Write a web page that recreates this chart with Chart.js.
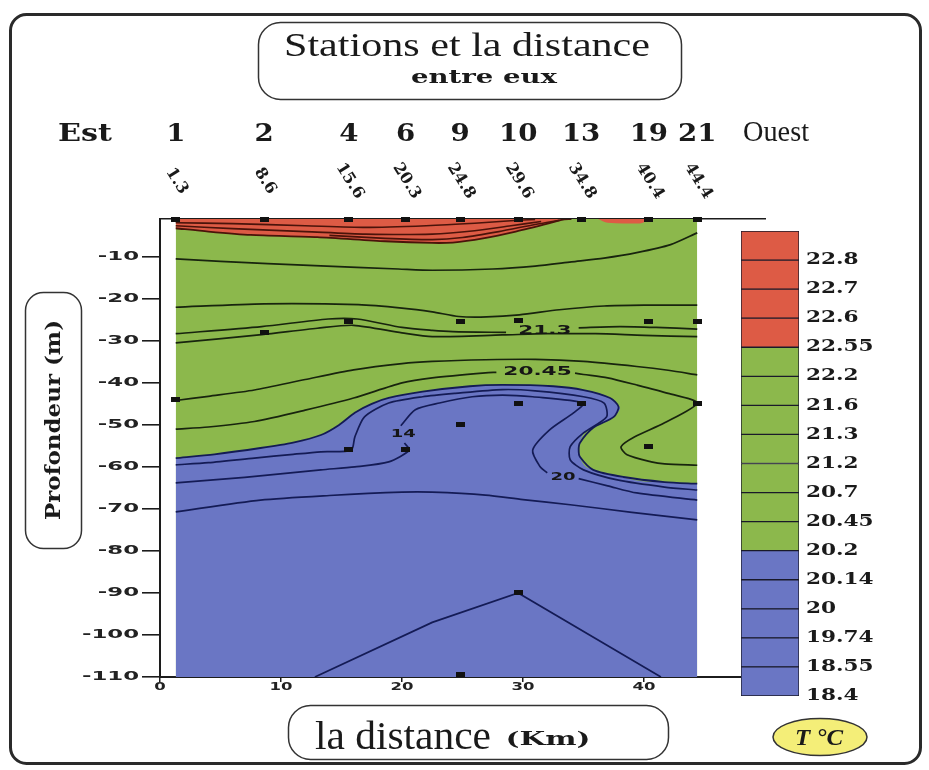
<!DOCTYPE html>
<html>
<head>
<meta charset="utf-8">
<script src="https://cdn.jsdelivr.net/npm/chart.js@4.4.1/dist/chart.umd.min.js"></script>
<style>
  html, body { margin: 0; padding: 0; background: #ffffff; }
  #wrap { position: relative; width: 929px; height: 770px; overflow: hidden; }
  #main { position: absolute; left: 0; top: 0; }
  #scale { position: absolute; left: 700px; top: 200px; }
</style>
</head>
<body>
<div id="wrap">
  <canvas id="main" width="929" height="770"></canvas>
  <canvas id="scale" width="229" height="520"></canvas>
</div>
<script>
// ---- Stations along the section (east to west) ----
const stationIds = ['1', '2', '4', '6', '9', '10', '13', '19', '21'];
const stationKm  = [1.3, 8.6, 15.6, 20.3, 24.8, 29.6, 34.8, 40.4, 44.4];

// ---- Axis ticks ----
const xTicks = [0, 10, 20, 30, 40];
const yTicks = [-10, -20, -30, -40, -50, -60, -70, -80, -90, -100, -110];
const depthMin = -110;

// ---- Sampling points (km, depth m) ----
const sampleKm    = [1.3, 8.6, 15.6, 20.3, 24.8, 29.6, 34.8, 40.4, 44.4,
                     8.6, 15.6, 24.8, 29.6, 40.4, 44.4,
                     1.3, 29.6, 34.8, 44.4, 24.8, 15.6, 20.3, 40.4, 29.6, 24.8];
const sampleDepth = [-1.2, -1.2, -1.2, -1.2, -1.2, -1.2, -1.2, -1.2, -1.2,
                     -28, -25.4, -25.4, -25.2, -25.4, -25.4,
                     -44, -44.8, -44.8, -44.8, -50, -55.8, -55.8, -55.2, -90, -109.5];

// ---- Temperature classes (°C), bottom to top of the colour scale ----
const levels = ['18.4', '18.55', '19.74', '20', '20.14', '20.2', '20.45', '20.7',
                '21.2', '21.3', '21.6', '22.2', '22.55', '22.6', '22.7', '22.8'];
const binClass = ['cold', 'cold', 'cold', 'cold', 'cold',
                  'mid', 'mid', 'mid', 'mid', 'mid', 'mid', 'mid',
                  'warm', 'warm', 'warm', 'warm'];
const classColor = { warm: '#dd5b45', mid: '#8cb84c', cold: '#6a76c4' };

// ---- Class boundaries (km, depth) ----
const warmEdge   = [[1.3,-3.2],[4,-4.0],[7.5,-4.8],[13,-5.3],[18.6,-6.3],[22.5,-6.7],[24.2,-6.6],
                    [26.7,-5.6],[29.4,-4.0],[32.2,-2.0],[33.2,-1.2],[34,-1]];
const warmSliver = [[36.2,-1],[37,-1.9],[39.6,-2.1],[40.3,-1.4],[40.7,-1]];
const coldTop    = [[1.3,-57.9],[4.5,-57],[8.3,-55.5],[11,-54.2],[13.3,-52.4],[14.8,-50],[16.1,-47.1],
                    [17.5,-45],[18.9,-43.6],[21.7,-42.1],[25.6,-40.8],[28.3,-40.5],[32.5,-40.8],
                    [35,-41.7],[37.2,-43.6],[37.9,-45.5],[38.1,-47.5],[38.3,-62.4],[41.7,-63.6],[44.4,-64]];
const tongueTop  = [[34.6,-56],[34.7,-54.3],[35.8,-50.7],[37.5,-48.1],[38.0,-46.3],[38.3,-44],[41.7,-44],[44.4,-44]];
const tongueBot  = [[34.6,-56],[34.7,-57.6],[35.8,-60.7],[37.5,-62.0],[38.0,-62.2],[38.3,-62.4],[41.7,-63.6],[44.4,-64]];
const coldEdge   = [[1.3,-57.9],[4.5,-57],[8.3,-55.5],[11,-54.2],[13.3,-52.4],[14.8,-50],[16.1,-47.1],
                    [17.5,-45],[18.9,-43.6],[21.7,-42.1],[25.6,-40.8],[28.3,-40.5],[32.5,-40.8],[35,-41.7],
                    [37.2,-43.6],[37.9,-45.7],[37.5,-48.1],[35.8,-50.7],[34.7,-54.3],[34.6,-56],[34.7,-57.6],
                    [35.8,-60.7],[38.3,-62.4],[41.7,-63.6],[44.4,-64]];

// ---- Isotherms (km, depth); null depth = break for a label ----
const isoW1 = [[1.3,-1.9],[6,-2.1],[12,-2.6],[17,-3.0],[22,-2.6],[26,-2.0],[29,-1.4],[31,-1.1]];
const isoW2 = [[1.3,-2.6],[6,-3.3],[12,-4.0],[17,-4.6],[22.5,-4.6],[26,-3.8],[29,-2.6],[31.5,-1.6]];
const isoW3 = [[14,-4.9],[18.6,-5.6],[22.5,-5.9],[25,-5.4],[28,-4.0],[31,-2.3],[33,-1.3]];
const isoM1 = [[1.3,-10.5],[5,-11.1],[12.8,-12.1],[19.7,-12.9],[22.5,-13.2],[27.5,-12.9],[31,-12.2],
               [34,-11.2],[36.7,-10.3],[39.4,-9.0],[42.2,-7.1],[44.4,-4.3]];
const isoM2 = [[1.3,-22],[8.6,-21.2],[16.4,-21.4],[20,-22.2],[22.5,-23.1],[24.7,-24.2],[27,-24.3],
               [29.7,-23.8],[33,-22.6],[36.7,-21.7],[40,-21.5],[44.4,-21.5]];
const isoM3 = [[1.3,-28.3],[8.4,-26.6],[13.9,-24.8],[16.3,-24.8],[20,-26.8],[22.5,-27.5],[24.2,-27.8],
               [28.6,-28.0],[31,null],[34.6,-26.9],[38,-26.6],[41,-26.8],[44.4,-27.2]];
const isoM4 = [[1.3,-30.5],[8.4,-28.5],[13,-27.0],[16,-26.3],[20,-28.1],[22.5,-29.0],[28.3,-28.6],
               [32,-28.3],[36,-28.3],[40,-28.7],[44.4,-29]];
const isoM5 = [[1.3,-44.2],[4,-43.2],[7.8,-41.7],[12,-39.2],[16,-36.9],[20,-35.4],[22.5,-34.9],
               [26.9,-34.5],[31,-34.4],[35,-34.9],[39.4,-36.1],[42,-37.0],[44.4,-38.1]];
const isoM6 = [[1.3,-51],[4,-50.5],[7.8,-49.2],[12,-46.5],[16,-43.6],[20,-40],[22.5,-38.8],[26.9,-37.6],
               [27.8,-37.5],[31,null],[34.3,-37.7],[35,-38],[37,-38.8],[39.4,-40.5],[42,-42.5],[44.4,-44.8],
               [41.7,-49.5],[39.2,-52.9],[38.1,-55.2],[38.6,-57.1],[40.6,-58.8],[41.7,-59.3],[44.4,-59.6]];
const isoC1 = [[1.3,-59.5],[4,-59],[7.8,-57.9],[11,-57],[13.3,-56.4],[15.8,-56],[16.1,-52.9],[16.9,-48.1],
               [18.9,-44.8],[21.7,-43.3],[24.4,-42.5],[28.3,-41.6],[31,-41.9],[35,-43.3],[36.7,-44.8],
               [36.9,-48.1],[35,-51.9],[33.9,-55.2],[33.9,-58.3],[35,-60.7],[37.8,-63.1],[41.7,-64.8],[44.4,-65.5]];
const isoC2 = [[1.3,-63.8],[7,-62.5],[13.3,-60.7],[16.1,-60],[18.9,-58.8],[20.6,-56],[20.2,-54.3],[20,null],
               [19.9,-50.2],[21.1,-46.4],[23.1,-44.8],[25.8,-43.3],[28.3,-42.9],[30.8,-43.3],[35,-44.8],
               [34.2,-47.1],[32.2,-51.2],[30.8,-56],[31.4,-59.9],[32.0,-61.4],[33,null],[34.6,-62.8],
               [37,-64.5],[39.4,-66.2],[44.4,-67.9]];
const isoC3 = [[1.3,-70.7],[8.3,-67.9],[14,-66.8],[20,-66],[22.5,-66],[26.9,-66.7],[30,-67.8],
               [33.9,-69],[39,-70.8],[44.4,-72.6]];
const isoC4 = [[12.8,-110],[22.5,-97],[29.6,-90],[41.4,-110]];

// ---- Labels written on isotherms (km, depth, text) ----
const isoLabelKm    = [31.8, 31.2, 20.1, 33.3];
const isoLabelDepth = [-27.6, -37.3, -52.2, -62.4];
const isoLabelText  = ['21.3', '20.45', '14', '20'];

const toXY = list => list.map(p => ({ x: p[0], y: p[1] }));

function region(points, fill, color, order) {
  return { data: toXY(points), fill: fill, backgroundColor: color,
           borderColor: 'rgba(0,0,0,0)', borderWidth: 0, pointRadius: 0,
           cubicInterpolationMode: 'monotone', order: order };
}
function isoline(points, color, width, tension) {
  return { data: toXY(points), fill: false, borderColor: color, borderWidth: width,
           pointRadius: 0, tension: tension, spanGaps: false, order: 10 };
}

// small black bar used as the sampling-point symbol
const mark = document.createElement('canvas');
mark.width = 9; mark.height = 5;
(function () { const c = mark.getContext('2d'); c.fillStyle = '#111'; c.fillRect(0, 0, 9, 5); })();

const lineWarm = '#4a130a', lineMid = '#18240e', lineCold = '#141b55';

const datasets = [
  region([[stationKm[0], depthMin], [stationKm[stationKm.length - 1], depthMin]], 'end', classColor.mid, 100),
  region(coldTop, 'start', classColor.cold, 90),
  region(tongueTop, '+1', classColor.mid, 80),
  region(tongueBot, false, 'rgba(0,0,0,0)', 80),
  region(warmEdge, 'end', classColor.warm, 70),
  region(warmSliver, 'end', classColor.warm, 70),
  isoline(isoW1, lineWarm, 1.6, 0.25),
  isoline(isoW2, lineWarm, 1.6, 0.25),
  isoline(isoW3, lineWarm, 1.6, 0.25),
  isoline(warmEdge, lineWarm, 1.8, 0.25),
  isoline(isoM1, lineMid, 1.7, 0.25),
  isoline(isoM2, lineMid, 1.7, 0.25),
  isoline(isoM3, lineMid, 1.7, 0.25),
  isoline(isoM4, lineMid, 1.7, 0.25),
  isoline(isoM5, lineMid, 1.7, 0.25),
  isoline(isoM6, lineMid, 1.7, 0.25),
  isoline(coldEdge, lineCold, 1.8, 0.25),
  isoline(isoC1, lineCold, 1.7, 0.25),
  isoline(isoC2, lineCold, 1.7, 0.25),
  isoline(isoC3, lineCold, 1.7, 0.25),
  isoline(isoC4, lineCold, 1.7, 0),
  { data: sampleKm.map((k, i) => ({ x: k, y: sampleDepth[i] })), showLine: false,
    pointStyle: mark, pointRadius: 4, order: 0, clip: false }
];

// text helper: optional horizontal stretch (sx) or fitted width
function write(ctx, s, x, y, o) {
  ctx.save();
  ctx.translate(x, y);
  if (o.rot) ctx.rotate(o.rot);
  ctx.font = o.font;
  let sx = o.sx || 1;
  if (o.width) sx = o.width / ctx.measureText(s).width;
  ctx.scale(sx, 1);
  ctx.textAlign = o.align || 'center';
  ctx.textBaseline = o.base || 'alphabetic';
  ctx.fillStyle = o.color || '#1a1a1a';
  ctx.fillText(s, 0, 0);
  ctx.restore();
}
function roundBox(ctx, x, y, w, h, r) {
  ctx.beginPath();
  ctx.moveTo(x + r, y);
  ctx.lineTo(x + w - r, y); ctx.arcTo(x + w, y, x + w, y + r, r);
  ctx.lineTo(x + w, y + h - r); ctx.arcTo(x + w, y + h, x + w - r, y + h, r);
  ctx.lineTo(x + r, y + h); ctx.arcTo(x, y + h, x, y + h - r, r);
  ctx.lineTo(x, y + r); ctx.arcTo(x, y, x + r, y, r);
  ctx.closePath();
}

const decorations = {
  id: 'decorations',
  afterDraw(chart) {
    const ctx = chart.ctx, xs = chart.scales.x, ys = chart.scales.y;
    ctx.save();
    // outer frame and label boxes
    ctx.strokeStyle = '#2a2a2a';
    ctx.lineWidth = 3;
    roundBox(ctx, 10.5, 14.5, 910, 749, 16); ctx.stroke();
    ctx.lineWidth = 1.5; ctx.strokeStyle = '#333';
    roundBox(ctx, 258.5, 22.5, 423, 77, 22); ctx.stroke();
    roundBox(ctx, 25.5, 292.5, 56, 256, 18); ctx.stroke();
    roundBox(ctx, 288.5, 705.5, 380, 54, 22); ctx.stroke();
    ctx.beginPath(); ctx.ellipse(820, 737, 47, 18.5, 0, 0, Math.PI * 2);
    ctx.fillStyle = '#f4ee78'; ctx.fill(); ctx.stroke();
    ctx.restore();

    // titles
    write(ctx, 'Stations et la distance', 467, 56, { font: '33px "Liberation Serif"', width: 366 });
    write(ctx, 'entre eux', 484, 83, { font: 'bold 18px "DejaVu Serif"', width: 146 });
    write(ctx, 'Est', 85, 141, { font: 'bold 25px "DejaVu Serif"', width: 54 });
    write(ctx, 'Ouest', 776, 141, { font: '29px "Liberation Serif"', width: 66 });
    write(ctx, 'Profondeur (m)', 60, 420, { font: 'bold 21px "DejaVu Serif"', width: 200, rot: -Math.PI / 2 });
    write(ctx, 'la distance', 403, 749, { font: '41px "Liberation Serif"', width: 176 });
    write(ctx, '(Km)', 548, 745, { font: 'bold 19px "DejaVu Serif"', width: 85 });
    write(ctx, 'T °C', 819, 745, { font: 'italic bold 23px "Liberation Serif"', width: 48 });

    // station numbers and distances along the top
    stationKm.forEach((km, i) => {
      const px = xs.getPixelForValue(km);
      write(ctx, stationIds[i], px, 141, { font: 'bold 24px "DejaVu Serif"', sx: 1.15 });
      write(ctx, String(km), px + 1, 181, { font: 'bold 16px "DejaVu Serif"', rot: Math.PI * 58 / 180, base: 'middle' });
    });

    // axis tick labels
    yTicks.forEach(v => write(ctx, String(v), 139, ys.getPixelForValue(v),
      { font: 'bold 12px "DejaVu Sans"', sx: 1.9, align: 'right', base: 'middle', color: '#222' }));
    xTicks.forEach(v => write(ctx, String(v), xs.getPixelForValue(v), 687,
      { font: 'bold 11px "DejaVu Sans"', sx: 1.5, base: 'middle', color: '#222' }));

    // isotherm labels
    isoLabelText.forEach((t, i) => write(ctx, t, xs.getPixelForValue(isoLabelKm[i]), ys.getPixelForValue(isoLabelDepth[i]),
      { font: 'bold ' + (t.length > 2 ? 12 : 10) + 'px "DejaVu Sans"', sx: 1.8, base: 'middle', color: '#161616' }));
  }
};

new Chart(document.getElementById('main'), {
  type: 'line',
  data: { datasets: datasets },
  options: {
    responsive: false, animation: false, devicePixelRatio: 1, events: [],
    layout: { padding: { left: 0, right: 164, top: 219, bottom: 63 } },
    plugins: { legend: { display: false }, tooltip: { enabled: false }, title: { display: false } },
    scales: {
      x: {
        type: 'linear', position: 'bottom', min: 0, max: 50,
        afterBuildTicks: s => { s.ticks = xTicks.map(v => ({ value: v })); },
        afterFit: s => { s.height = 30; },
        grid: { drawOnChartArea: false, drawTicks: true, tickLength: 5, color: '#1c1c1c', lineWidth: 1.5 },
        border: { display: true, color: '#1c1c1c', width: 2 },
        ticks: { display: false }
      },
      xTop: {
        type: 'linear', axis: 'x', position: 'top', min: 0, max: 50,
        afterFit: s => { s.height = 0; },
        grid: { display: false, drawTicks: false },
        border: { display: true, color: '#1c1c1c', width: 1.5 },
        ticks: { display: false }
      },
      y: {
        type: 'linear', min: depthMin, max: -1,
        afterBuildTicks: s => { s.ticks = yTicks.map(v => ({ value: v })); },
        afterFit: s => { s.width = 160; },
        grid: { drawOnChartArea: false, drawTicks: true, tickLength: 18, color: '#1c1c1c', lineWidth: 1.6 },
        border: { display: true, color: '#1c1c1c', width: 2 },
        ticks: { display: false }
      }
    }
  },
  plugins: [decorations]
});

// ---- Colour scale ----
const scaleLabels = {
  id: 'scaleLabels',
  afterDraw(chart) {
    const ys = chart.scales.y;
    levels.forEach((lv, i) => write(chart.ctx, lv, chart.chartArea.right + 7, ys.getPixelForValue(i),
      { font: 'bold 16px "DejaVu Serif"', sx: 1.35, align: 'left', base: 'middle', color: '#1a1a1a' }));
  }
};

new Chart(document.getElementById('scale'), {
  type: 'bar',
  data: {
    labels: ['T'],
    datasets: binClass.map(c => ({
      data: [1], backgroundColor: classColor[c], borderColor: '#1a1a2a', borderWidth: 1,
      borderSkipped: false, barPercentage: 1, categoryPercentage: 1, stack: 'bins'
    }))
  },
  options: {
    responsive: false, animation: false, devicePixelRatio: 1, events: [],
    layout: { padding: { left: 41, right: 0, top: 31, bottom: 24 } },
    plugins: { legend: { display: false }, tooltip: { enabled: false } },
    scales: {
      x: { stacked: true, display: false },
      y: {
        stacked: true, position: 'right', min: 0, max: levels.length,
        afterBuildTicks: s => { s.ticks = levels.map((_, i) => ({ value: i })); },
        afterFit: s => { s.width = 130; },
        grid: { display: false, drawTicks: false },
        border: { display: false },
        ticks: { display: false }
      }
    }
  },
  plugins: [scaleLabels]
});
</script>
</body>
</html>
